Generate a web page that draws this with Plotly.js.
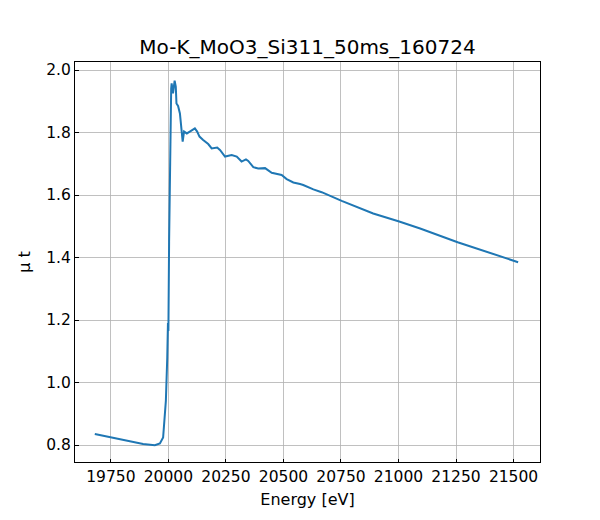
<!DOCTYPE html>
<html>
<head>
<meta charset="utf-8">
<script src="https://cdn.plot.ly/plotly-3.0.1.min.js"></script>
<style>
  html, body { margin: 0; padding: 0; background: #fff; }
  #plot { width: 600px; height: 520px; }
</style>
</head>
<body>
<div id="plot"></div>
<script>
// Mo K-edge XANES of MoO3
const energy = [
    19680, 19753, 19818, 19890, 19941, 19963, 19977, 19989, 19995, 19998,
    20000, 20003, 20007, 20012, 20014, 20020, 20027, 20032, 20035, 20042,
    20050, 20057, 20062, 20068, 20080, 20093, 20115, 20125, 20135, 20151,
    20173, 20188, 20212, 20224, 20246, 20275, 20297, 20318, 20337, 20347,
    20369, 20390, 20420, 20449, 20477, 20492, 20514, 20543, 20572, 20586,
    20630, 20666, 20753, 20890, 21003, 21094, 21257, 21520,
];
const mut = [
    0.835, 0.824, 0.814, 0.803, 0.799, 0.805, 0.824, 0.942, 1.080, 1.190,
    1.165, 1.450, 1.750, 1.940, 1.957, 1.925, 1.966, 1.947, 1.893, 1.885,
    1.861, 1.797, 1.771, 1.803, 1.797, 1.803, 1.813, 1.803, 1.787, 1.776,
    1.763, 1.749, 1.752, 1.744, 1.723, 1.728, 1.723, 1.707, 1.714, 1.709,
    1.689, 1.685, 1.686, 1.671, 1.666, 1.664, 1.651, 1.640, 1.635, 1.632,
    1.618, 1.609, 1.581, 1.541, 1.515, 1.493, 1.449, 1.385,
];
const xTicks = [19750, 20000, 20250, 20500, 20750, 21000, 21250, 21500];
const yTicks = [0.8, 1.0, 1.2, 1.4, 1.6, 1.8, 2.0];

const FONT = "DejaVu Sans, sans-serif";

const axisCommon = {
    showline: true, linecolor: "#000", linewidth: 1, mirror: true,
    ticks: "inside", ticklen: 3.5, tickwidth: 1, tickcolor: "#000",
    showgrid: true, gridcolor: "#b0b0b0", gridwidth: 0.8,
    zeroline: false,
    tickfont: { family: FONT, size: 15.5, color: "#000" },
};

const trace = {
    x: energy,
    y: mut,
    type: "scatter",
    mode: "lines",
    line: { color: "#1f77b4", width: 2 },
    hoverinfo: "x+y",
};

const layout = {
    width: 600, height: 520,
    paper_bgcolor: "#fff", plot_bgcolor: "#fff",
    margin: { l: 75, r: 60, t: 62, b: 58 },
    showlegend: false,
    font: { family: FONT, color: "#000" },
    title: {
        text: "Mo-K_MoO3_Si311_50ms_160724",
        font: { family: FONT, size: 20, color: "#000" },
        x: 307.5 / 600, xanchor: "center",
        y: 1 - 47 / 520, yanchor: "middle",
    },
    xaxis: Object.assign({}, axisCommon, {
        range: [19594, 21615],
        tickvals: xTicks,
        ticktext: xTicks.map(String),
        title: { text: "Energy [eV]", font: { family: FONT, size: 16 }, standoff: 9 },
    }),
    yaxis: Object.assign({}, axisCommon, {
        range: [0.7456, 2.0256],
        tickvals: yTicks,
        ticktext: yTicks.map(v => v.toFixed(1)),
        title: { text: "μ t", font: { family: FONT, size: 16 }, standoff: 11 },
    }),
};

Plotly.newPlot("plot", [trace], layout, { staticPlot: true });
</script>
</body>
</html>
